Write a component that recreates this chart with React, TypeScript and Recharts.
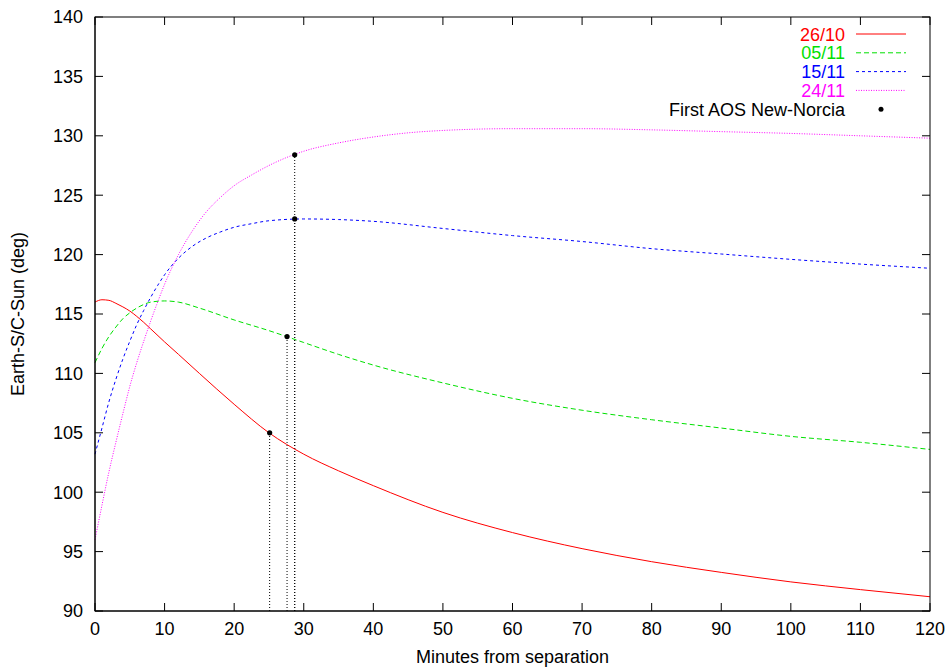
import React from 'react';
import {
  ComposedChart,
  Line,
  Scatter,
  XAxis,
  YAxis,
  ReferenceLine,
} from 'recharts';

const W = 949;
const H = 668;
const FONT = '"Liberation Sans", Arial, Helvetica, sans-serif';

// plot box (gnuplot frame)
const PLOT = { left: 95, right: 930, top: 17, bottom: 611 };

// minutes from separation / Earth-S/C-Sun angle per launch date
const MIN_2610 = [0, 1, 2, 3, 4, 5, 6, 7, 8, 10, 12, 15, 20, 25, 30, 35, 40, 50, 60, 70, 80, 90, 100, 110, 120];
const DEG_2610 = [116.0, 116.2, 116.15, 115.9, 115.6, 115.25, 114.8, 114.3, 113.75, 112.65, 111.6, 110.0, 107.4, 105.0, 103.2, 101.8, 100.55, 98.3, 96.6, 95.25, 94.15, 93.25, 92.45, 91.8, 91.2];

const MIN_0511 = [0, 1, 2, 3, 4, 5, 6, 7, 8, 10, 12, 15, 20, 25, 30, 35, 40, 50, 60, 70, 80, 90, 100, 110, 120];
const DEG_0511 = [110.9, 112.1, 113.1, 113.9, 114.6, 115.1, 115.5, 115.8, 116.0, 116.1, 116.0, 115.5, 114.5, 113.6, 112.6, 111.6, 110.7, 109.2, 107.9, 106.9, 106.1, 105.4, 104.7, 104.2, 103.6];

const MIN_1511 = [0, 1, 2, 3, 4, 5, 6, 7, 8, 9, 10, 12, 14, 16, 18, 20, 22.5, 25, 30, 35, 40, 50, 60, 70, 80, 90, 100, 110, 120];
const DEG_1511 = [103.2, 105.4, 107.6, 109.5, 111.2, 112.7, 114.1, 115.3, 116.4, 117.4, 118.3, 119.7, 120.7, 121.4, 121.9, 122.3, 122.6, 122.85, 123.0, 122.95, 122.8, 122.2, 121.6, 121.1, 120.5, 120.05, 119.6, 119.2, 118.85];

const MIN_2411 = [0, 1, 2, 3, 4, 5, 6, 7, 8, 9, 10, 12, 14, 16, 18, 20, 22.5, 25, 30, 35, 40, 45, 50, 60, 70, 80, 90, 100, 110, 120];
const DEG_2411 = [96.0, 98.9, 101.7, 104.2, 106.6, 108.9, 110.9, 112.7, 114.4, 116.0, 117.5, 120.0, 122.0, 123.6, 124.8, 125.8, 126.7, 127.5, 128.7, 129.4, 129.9, 130.25, 130.45, 130.6, 130.6, 130.5, 130.35, 130.2, 130.0, 129.8];

// first AOS at New-Norcia
const AOS_MIN = [25.1, 27.6, 28.7, 28.7];
const AOS_DEG = [105.0, 113.1, 123.0, 128.4];

const X_TICKS = [0, 10, 20, 30, 40, 50, 60, 70, 80, 90, 100, 110, 120];
const Y_TICKS = [90, 95, 100, 105, 110, 115, 120, 125, 130, 135, 140];
const X_MIN = 0;
const X_MAX = 120;
const Y_MIN = 90;
const Y_MAX = 140;
const TICK_LEN = 8;

const toRows = (mins: number[], degs: number[]) => mins.map((m, i) => ({ m, v: degs[i] }));

const SERIES = [
  { name: '26/10', color: '#ff0000', dash: undefined, rows: toRows(MIN_2610, DEG_2610) },
  { name: '05/11', color: '#00e000', dash: '5 3', rows: toRows(MIN_0511, DEG_0511) },
  { name: '15/11', color: '#0000ff', dash: '3 3', rows: toRows(MIN_1511, DEG_1511) },
  { name: '24/11', color: '#ff00ff', dash: '1 1.5', rows: toRows(MIN_2411, DEG_2411) },
];

const AOS_ROWS = toRows(AOS_MIN, AOS_DEG);

const tickStyle = { fill: '#000', fontSize: 18, fontFamily: FONT };

const sx = (m: number) => PLOT.left + ((m - X_MIN) / (X_MAX - X_MIN)) * (PLOT.right - PLOT.left);
const sy = (v: number) => PLOT.bottom - ((v - Y_MIN) / (Y_MAX - Y_MIN)) * (PLOT.bottom - PLOT.top);

// closed frame with mirrored inward ticks, plus the key
function Overlay() {
  const rowY = (i: number) => 34 + i * 18.8;
  return (
    <svg width={W} height={H} style={{ position: 'absolute', left: 0, top: 0, pointerEvents: 'none' }}>
      <rect
        x={PLOT.left}
        y={PLOT.top}
        width={PLOT.right - PLOT.left}
        height={PLOT.bottom - PLOT.top}
        fill="none"
        stroke="#000"
        strokeWidth={1}
      />
      {X_TICKS.map((t) => (
        <line key={`tx${t}`} x1={sx(t)} x2={sx(t)} y1={PLOT.top} y2={PLOT.top + TICK_LEN} stroke="#000" strokeWidth={1} />
      ))}
      {Y_TICKS.map((t) => (
        <line key={`ty${t}`} x1={PLOT.right} x2={PLOT.right - TICK_LEN} y1={sy(t)} y2={sy(t)} stroke="#000" strokeWidth={1} />
      ))}
      {SERIES.map((s, i) => (
        <g key={s.name}>
          <text x={845} y={rowY(i) + 6.5} textAnchor="end" fill={s.color} fontSize={18} fontFamily={FONT}>
            {s.name}
          </text>
          <line x1={856} x2={906} y1={rowY(i)} y2={rowY(i)} stroke={s.color} strokeDasharray={s.dash} />
        </g>
      ))}
      <text x={845} y={rowY(4) + 6.5} textAnchor="end" fill="#000" fontSize={18} fontFamily={FONT}>
        First AOS New-Norcia
      </text>
      <circle cx={881} cy={rowY(4)} r={2.5} fill="#000" />
    </svg>
  );
}

export default function App() {
  return (
    <div style={{ position: 'absolute', left: 0, top: 0, width: W, height: H, background: '#fff' }}>
      <ComposedChart
        width={W}
        height={H}
        margin={{ top: PLOT.top, right: W - PLOT.right, left: 0, bottom: 0 }}
      >
        <XAxis
          dataKey="m"
          type="number"
          domain={[X_MIN, X_MAX]}
          ticks={X_TICKS}
          height={H - PLOT.bottom}
          tickSize={-TICK_LEN}
          tickMargin={19}
          stroke="#000"
          tick={tickStyle}
          label={{
            content: ({ viewBox }: any) => (
              <text x={viewBox.x + viewBox.width / 2} y={663} textAnchor="middle" fontSize={18} fontFamily={FONT} fill="#000">
                Minutes from separation
              </text>
            ),
          }}
        />
        <YAxis
          type="number"
          domain={[Y_MIN, Y_MAX]}
          ticks={Y_TICKS}
          width={PLOT.left}
          tickSize={-TICK_LEN}
          tickMargin={20}
          stroke="#000"
          tick={tickStyle}
          label={{
            content: ({ viewBox }: any) => {
              const cy = viewBox.y + viewBox.height / 2;
              return (
                <text x={24} y={cy} transform={`rotate(-90 24 ${cy})`} textAnchor="middle" fontSize={18} fontFamily={FONT} fill="#000">
                  Earth-S/C-Sun (deg)
                </text>
              );
            },
          }}
        />

        {AOS_ROWS.map((p, i) => (
          <ReferenceLine
            key={i}
            segment={[{ x: p.m, y: Y_MIN }, { x: p.m, y: p.v }]}
            stroke="#000"
            strokeDasharray="1 2"
            strokeWidth={1}
          />
        ))}

        {SERIES.map((s) => (
          <Line
            key={s.name}
            data={s.rows}
            dataKey="v"
            name={s.name}
            type="monotone"
            stroke={s.color}
            strokeWidth={1}
            strokeDasharray={s.dash}
            dot={false}
            activeDot={false}
            isAnimationActive={false}
          />
        ))}

        <Scatter
          data={AOS_ROWS}
          dataKey="v"
          fill="#000"
          isAnimationActive={false}
          shape={(props: any) => <circle cx={props.cx} cy={props.cy} r={2.6} fill="#000" />}
        />
      </ComposedChart>
      <Overlay />
    </div>
  );
}
